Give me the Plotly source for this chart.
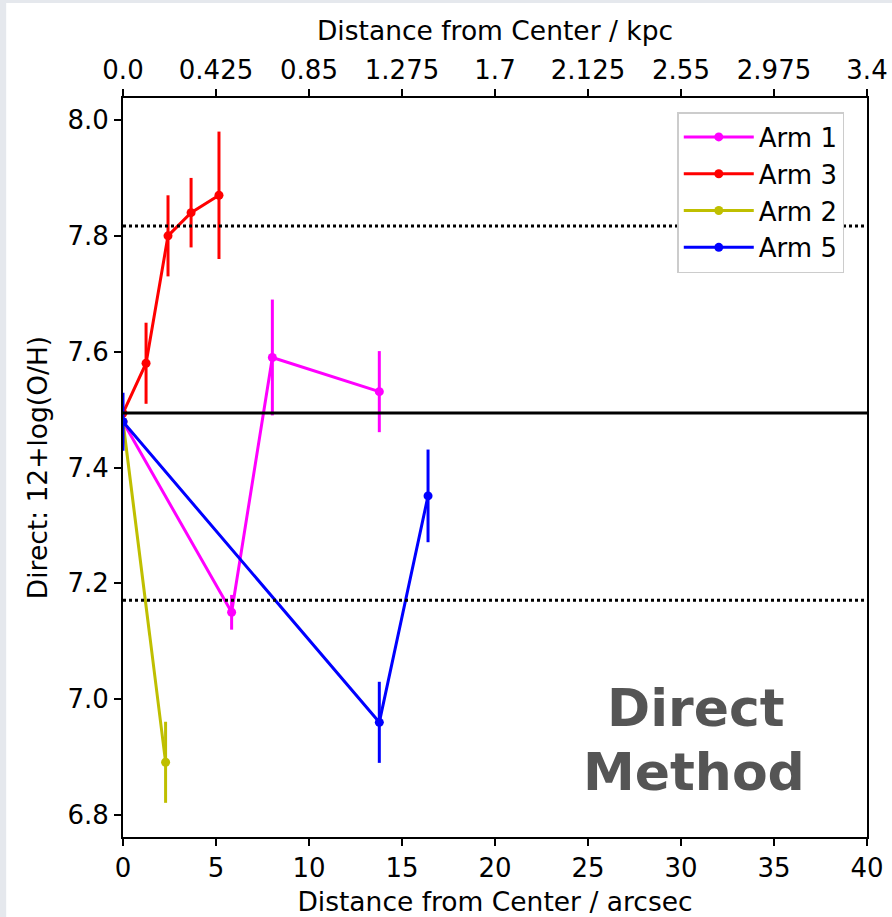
import plotly.graph_objects as go

# ---- data ----
arm1_x = [0.0, 5.84, 8.03, 13.78]
arm1_y = [7.479, 7.150, 7.590, 7.531]
arm1_err = [0.0, 0.03, 0.10, 0.07]

arm3_x = [0.0, 1.24, 2.42, 3.66, 5.16]
arm3_y = [7.494, 7.580, 7.800, 7.840, 7.870]
arm3_err = [0.0, 0.07, 0.07, 0.06, 0.11]

arm2_x = [0.0, 2.29]
arm2_y = [7.479, 6.891]
arm2_err = [0.0, 0.07]

arm5_x = [0.0, 13.78, 16.40]
arm5_y = [7.479, 6.960, 7.351]
arm5_err = [0.05, 0.07, 0.08]

ref_solid = [7.494]
ref_dotted = [7.817, 7.171]

x_ticks = [0, 5, 10, 15, 20, 25, 30, 35, 40]
y_ticks = [6.8, 7.0, 7.2, 7.4, 7.6, 7.8, 8.0]
kpc_ticks = [0.0, 0.425, 0.85, 1.275, 1.7, 2.125, 2.55, 2.975, 3.4]
kpc_labels = ["0.0", "0.425", "0.85", "1.275", "1.7", "2.125", "2.55", "2.975", "3.4"]

series = [
    ("Arm 1", arm1_x, arm1_y, arm1_err, "#ff00ff"),
    ("Arm 3", arm3_x, arm3_y, arm3_err, "#ff0000"),
    ("Arm 2", arm2_x, arm2_y, arm2_err, "#bfbf00"),
    ("Arm 5", arm5_x, arm5_y, arm5_err, "#0000ff"),
]

FONT = "DejaVu Sans"
fig = go.Figure()

for name, xs, ys, es, col in series:
    fig.add_trace(go.Scatter(
        x=xs, y=ys, name=name, mode="lines+markers",
        line=dict(color=col, width=3),
        marker=dict(color=col, size=9, symbol="circle"),
        error_y=dict(type="data", array=es, visible=True, color=col, thickness=3, width=0),
    ))

# dummy trace to carry the top (kpc) axis
fig.add_trace(go.Scatter(x=[kpc_ticks[0], kpc_ticks[-1]], y=[None, None], xaxis="x2",
                         showlegend=False, hoverinfo="skip", mode="markers"))

for yv in ref_solid:
    fig.add_shape(type="line", xref="paper", x0=0, x1=1, yref="y", y0=yv, y1=yv,
                  line=dict(color="black", width=3))
for yv in ref_dotted:
    fig.add_shape(type="line", xref="paper", x0=0, x1=1, yref="y", y0=yv, y1=yv,
                  line=dict(color="black", width=3, dash="dot"))

# slide background frame
fig.add_shape(type="rect", xref="paper", yref="paper", x0=-0.157, x1=1.04, y0=-0.12, y1=1.1286,
              fillcolor="white", line=dict(width=0), layer="below")

fig.add_annotation(x=30.8, y=6.985, xref="x", yref="y", text="<b>Direct</b>", showarrow=False,
                   font=dict(family="DejaVu Sans", size=52, color="#555555"))
fig.add_annotation(x=30.7, y=6.875, xref="x", yref="y", text="<b>Method</b>", showarrow=False,
                   font=dict(family="DejaVu Sans", size=52, color="#555555"))

axis_common = dict(showgrid=False, zeroline=False, ticks="outside", ticklen=7, tickwidth=2,
                   tickcolor="black", linecolor="black", linewidth=2, showline=True, automargin=False,
                   tickfont=dict(family=FONT, size=26, color="black"))

fig.update_layout(
    width=892, height=917,
    margin=dict(l=123, r=25, t=98, b=80),
    paper_bgcolor="#e5e8ed", plot_bgcolor="white",
    font=dict(family=FONT, size=26, color="black"),
    xaxis=dict(range=[0, 40], tickvals=x_ticks, side="bottom",
               title=dict(text="Distance from Center / arcsec", font=dict(size=26.5), standoff=12),
               **axis_common),
    xaxis2=dict(range=[0, 3.4], tickvals=kpc_ticks, ticktext=kpc_labels, overlaying="x", side="top",
                anchor="y", title=dict(text="Distance from Center / kpc", font=dict(size=26.5), standoff=6),
                **axis_common),
    yaxis=dict(range=[6.762, 8.038], tickvals=y_ticks, tickformat=".1f", mirror=True,
               title=dict(text="Direct: 12+log(O/H)", font=dict(size=26.5), standoff=12),
               **axis_common),
    legend=dict(x=0.745, y=0.981, xanchor="left", yanchor="top", bgcolor="white",
                bordercolor="#cccccc", borderwidth=1.5, font=dict(family=FONT, size=26),
                itemwidth=70, tracegroupgap=0),
    showlegend=True,
)

fig.write_html("out.html")
